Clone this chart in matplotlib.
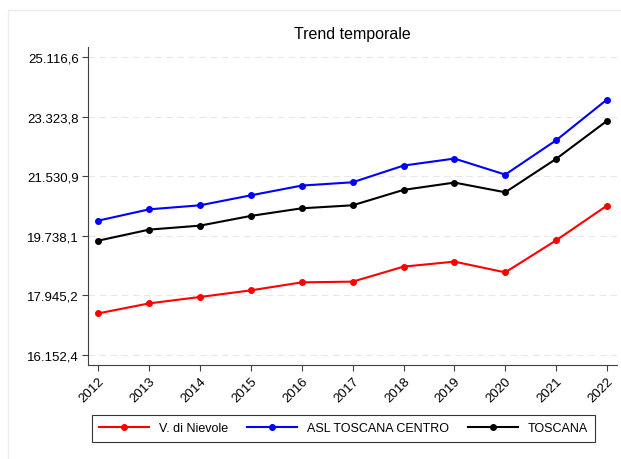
import matplotlib.pyplot as plt
from matplotlib.patches import Rectangle

anni = [2012, 2013, 2014, 2015, 2016, 2017, 2018, 2019, 2020, 2021, 2022]
nievole = [17406, 17707, 17900, 18099, 18340, 18361, 18813, 18964, 18641, 19605, 20651]
asl_centro = [20199, 20539, 20660, 20961, 21254, 21353, 21856, 22067, 21585, 22618, 23845]
toscana = [19596, 19928, 20048, 20341, 20570, 20660, 21124, 21344, 21052, 22058, 23203]

y_ticks = [16152.4, 17945.2, 19738.1, 21530.9, 23323.8, 25116.6]
y_labels = ['16.152,4', '17.945,2', '19.738,1', '21.530,9', '23.323,8', '25.116,6']

plt.rcParams['font.family'] = ['Liberation Sans', 'DejaVu Sans']

fig = plt.figure(figsize=(6.21, 4.60), dpi=100)
# faint outer frame like the original export
fig.patches.append(Rectangle((8 / 621, -0.1), 1.2, 1 - 11 / 460 + 0.1,
                             transform=fig.transFigure, fill=False,
                             edgecolor='#e6eef0', linewidth=1.0))

ax = fig.add_axes([0.1425, 0.2043, 0.8511, 0.6914])

ax.plot(anni, nievole, color='red', marker='o', markersize=4, lw=1.5, label='V. di Nievole')
ax.plot(anni, asl_centro, color='blue', marker='o', markersize=4, lw=1.5, label='ASL TOSCANA CENTRO')
ax.plot(anni, toscana, color='black', marker='o', markersize=4, lw=1.5, label='TOSCANA')

ax.set_xlim(2011.807, 2022.197)
ax.set_ylim(15851, 25427)
ax.set_xticks(anni)
ax.set_xticklabels([str(a) for a in anni], rotation=45, ha='right',
                   rotation_mode='anchor', fontsize=9.5)
ax.set_yticks(y_ticks)
ax.set_yticklabels(y_labels, fontsize=9.5)
ax.grid(axis='y', color='#e8e8e8', linestyle=(0, (6, 4)), linewidth=0.8)
ax.set_axisbelow(True)

for s in ['top', 'right']:
    ax.spines[s].set_visible(False)
for s in ['left', 'bottom']:
    ax.spines[s].set_color('#404040')
ax.tick_params(direction='out', length=4, color='#404040', pad=3)

fig.text(352 / 621, 1 - 35 / 460, 'Trend temporale', ha='center', va='center', fontsize=11.5)

leg = fig.legend(loc='center', bbox_to_anchor=(343.5 / 621, 1 - 429 / 460), ncol=3,
                 frameon=True, fancybox=False, edgecolor='black', fontsize=9,
                 handlelength=4.0, handletextpad=0.8, columnspacing=1.5, borderpad=0.6)
leg.get_frame().set_linewidth(0.8)

fig.savefig('out.png', dpi=100)
